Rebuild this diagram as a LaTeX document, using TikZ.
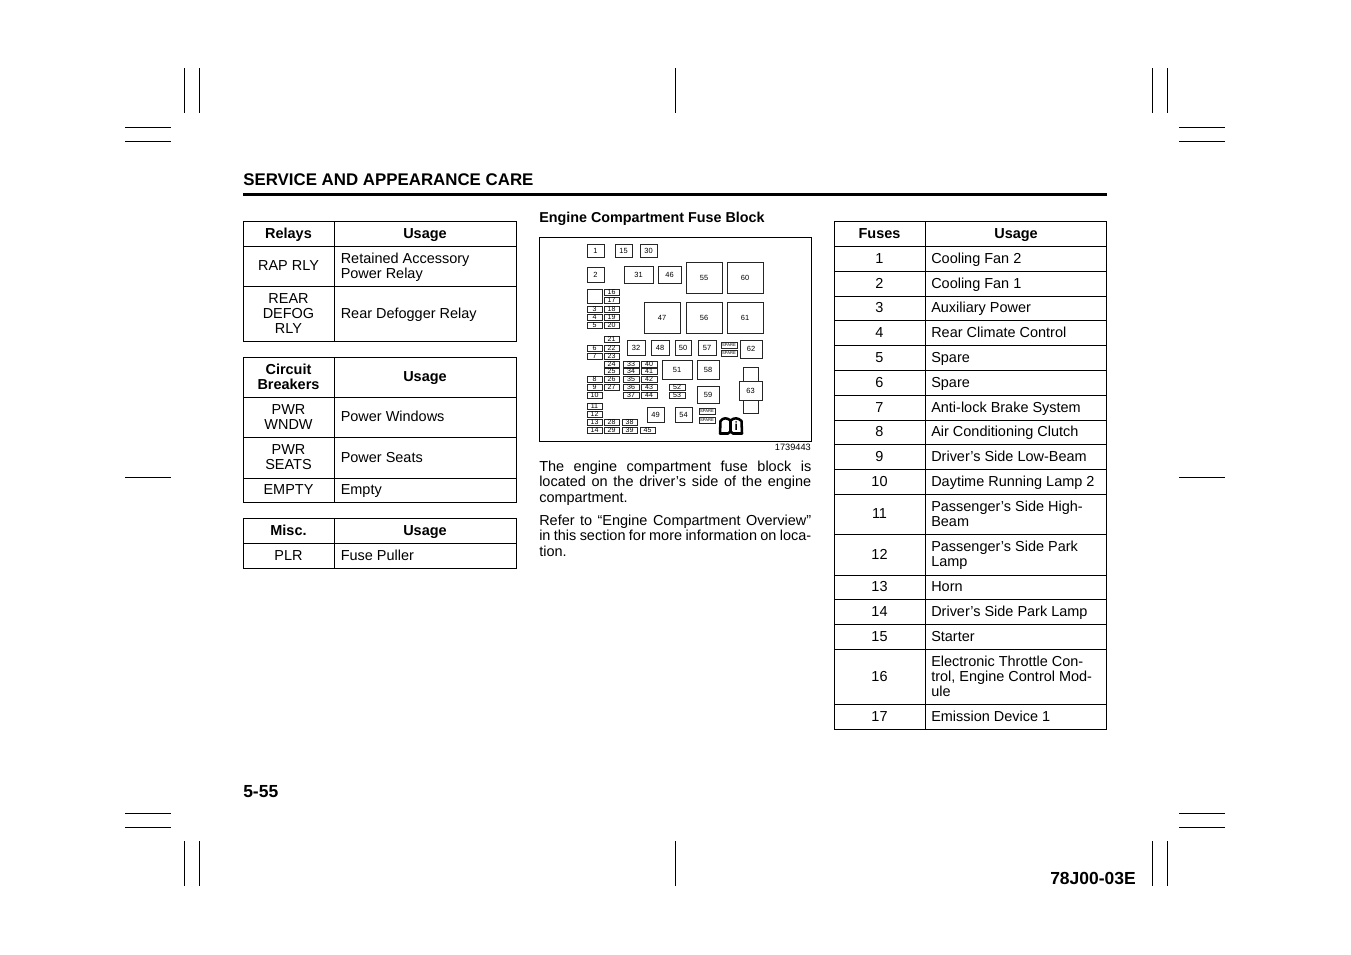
\documentclass[tikz,border=0pt]{standalone}
\usepackage{fontspec}
\setmainfont{Liberation Sans}
\begin{document}
\begin{tikzpicture}[x=0.75pt,y=-0.75pt]
    % `cell' is used for table text, `head' for the bold table titles.
    % `fuse' is used for the boxes of the fuse block.
    \tikzstyle{cell} = [inner sep=0pt,anchor=west,align=left,yshift=-1.4pt,font=\fontsize{10.85}{11.3}\selectfont,execute at begin node=\strut,execute at end node=\strut]
    \tikzstyle{mid} = [cell,anchor=center,align=center]
    \tikzstyle{head} = [mid,font=\fontsize{10.85}{11.3}\selectfont\bfseries]
    \tikzstyle{grid} = [line width=0.7pt]
    \tikzstyle{crop} = [line width=0.6pt]
    \tikzstyle{fuse} = [line width=0.6pt,draw=black!85]
    \tikzstyle{fuselabel} = [inner sep=0pt,font=\fontsize{5.6}{6}\selectfont]
    \tikzstyle{thinlabel} = [inner sep=0pt,font=\fontsize{5.3}{5}\selectfont]
    \tikzstyle{sparelabel} = [inner sep=0pt,font=\fontsize{3.1}{3}\selectfont]
    \useasboundingbox (0,0) rectangle (1351,954);
    % Crop marks.
    \foreach \xa in {184,199,675,1152,1167} {
      \draw[crop] (\xa,68) -- (\xa,113);
      \draw[crop] (\xa,841) -- (\xa,886);
    }
    \foreach \ya in {127,141,477,813,827} {
      \draw[crop] (125,\ya) -- (171,\ya);
      \draw[crop] (1179,\ya) -- (1225,\ya);
    }
    % Page title and footer.
    \node[inner sep=0pt,anchor=base west,font=\fontsize{12.65}{15}\selectfont\bfseries] (title) at (243,185) {SERVICE AND APPEARANCE CARE};
    \draw[line width=2.2pt] (243,194.5) -- (1107,194.5);
    \node[inner sep=0pt,anchor=base west,font=\fontsize{13.1}{15}\selectfont\bfseries] (page) at (243,797) {5-55};
    \node[inner sep=0pt,anchor=base east,font=\fontsize{13.1}{15}\selectfont\bfseries] (code) at (1136,884) {78J00-03E};
    % Left tables.
    \foreach \ya/\yb/\name/\usage in {
      246/286/RAP RLY/{Retained Accessory\\Power Relay},
      286/341/{REAR\\DEFOG\\RLY}/Rear Defogger Relay,
      397/437/{PWR\\WNDW}/Power Windows,
      437/478/{PWR\\SEATS}/Power Seats,
      478/502/EMPTY/Empty,
      543/568/PLR/Fuse Puller} {
      \draw[grid] (243.5,\ya) rectangle (334,\yb) (334,\ya) rectangle (516.5,\yb);
      \node[mid] at (288.5,{(\ya+\yb)/2}) {\name};
      \node[cell] at (340.5,{(\ya+\yb)/2}) {\usage};
    }
    \foreach \ya/\yb/\name in {221/246/Relays,357/397/{Circuit\\Breakers},518/543/Misc.} {
      \draw[grid] (243.5,\ya) rectangle (334,\yb) (334,\ya) rectangle (516.5,\yb);
      \node[head] at (288.5,{(\ya+\yb)/2}) {\name};
      \node[head] at (425,{(\ya+\yb)/2}) {Usage};
    }
    % Fuse table.
    \draw[grid] (834.5,221) rectangle (925,246) (925,221) rectangle (1106.5,246);
    \node[head] (fuses) at (879.5,233.5) {Fuses};
    \node[head] (usage) at (1016,233.5) {Usage};
    \foreach \ya/\yb/\name/\usage in {
      246/271/1/Cooling Fan 2,
      271/296/2/Cooling Fan 1,
      296/320/3/Auxiliary Power,
      320/345/4/Rear Climate Control,
      345/370/5/Spare,
      370/395/6/Spare,
      395/420/7/Anti-lock Brake System,
      420/444/8/Air Conditioning Clutch,
      444/469/9/Driver’s Side Low-Beam,
      469/494/10/Daytime Running Lamp 2,
      494/534/11/{Passenger’s Side High-\\Beam},
      534/575/12/{Passenger’s Side Park\\Lamp},
      575/599/13/Horn,
      599/624/14/Driver’s Side Park Lamp,
      624/649/15/Starter,
      649/704/16/{Electronic Throttle Con-\\trol, Engine Control Mod-\\ule},
      704/729/17/Emission Device 1} {
      \draw[grid] (834.5,\ya) rectangle (925,\yb) (925,\ya) rectangle (1106.5,\yb);
      \node[mid] at (879.5,{(\ya+\yb)/2}) {\name};
      \node[cell] at (931,{(\ya+\yb)/2}) {\usage};
    }
    % Middle column.
    \node[inner sep=0pt,anchor=base west,font=\fontsize{10.75}{11.6}\selectfont\bfseries] (blocktitle) at (539,222) {Engine Compartment Fuse Block};
    \draw[line width=0.7pt] (539.5,237.5) rectangle (811,441);
    \node[inner sep=0pt,anchor=base east,font=\fontsize{6.9}{8}\selectfont] (number) at (811,450) {1739443};
    \node[inner sep=0pt,anchor=north west,text width=204pt,align=justify,font=\fontsize{10.85}{11.4}\selectfont] (para1) at (539,461) {The engine compartment fuse block is\linebreak located on the driver’s side of the engine\linebreak compartment.};
    \node[inner sep=0pt,anchor=north west,text width=204pt,align=justify,font=\fontsize{10.85}{11.4}\selectfont] (para2) at (539,515) {Refer to “Engine Compartment Overview”\linebreak in this section for more information on loca-\linebreak tion.};
    % Larger fuses and relays.
    \foreach \name/\xa/\ya/\xb/\yb in {
      1/587/244/604/257, 15/615/244/632/257, 30/640/244/657/257, 2/587/267/604/282,
      31/624/266/653/283, 46/658/266/681/283, 55/686/262/722/293, 60/727/262/763/293,
      47/644/302/680/333, 56/686/302/722/333, 61/727/302/763/333,
      32/627/340/645/355, 48/651/340/669/355, 50/675/340/691/355, 57/698/340/716/355,
      62/740/340/762/358, 51/662/360/692/379, 58/697/360/719/379, 59/697/386/719/403,
      49/647/407/664/422, 54/675/407/692/422} {
      \draw[fuse] (\xa,\ya) rectangle (\xb,\yb);
      \node[fuselabel] (f\name) at ({(\xa+\xb)/2},{(\ya+\yb)/2}) {\name};
    }
    % Thin fuses, by column.
    \foreach \xa/\xb/\list in {
      587/602/{3/306,4/314,5/322,6/345,7/353,8/376,9/384,10/392,11/403,12/411,13/419,14/427},
      604/619/{16/289,17/297,18/306,19/314,20/322,21/336,22/345,23/353,24/361,25/368,26/376,27/384,28/419,29/427},
      622/637/{38/419,39/427},
      623/639/{33/361,34/368,35/376,36/384,37/392},
      641/657/{40/361,41/368,42/376,43/384,44/392},
      640/655/{45/427},
      669/685/{52/384,53/392}} {
      \foreach \name/\ya in \list {
        \draw[fuse] (\xa,\ya) rectangle (\xb,\ya+6);
        \node[thinlabel] (f\name) at ({(\xa+\xb)/2},\ya+3) {\name};
      }
    }
    \foreach \xa/\xb/\ya in {721/737/342,721/737/350,699/715/408,699/715/417} {
      \draw[fuse] (\xa,\ya) rectangle (\xb,\ya+6);
      \node[sparelabel] at ({(\xa+\xb)/2},\ya+3) {SPARE};
    }
    \draw[line width=0.7pt,draw=black!85] (587,289) rectangle (602,303);
    % Relay 63 with its two stubs.
    \draw[fuse] (743,367) rectangle (758,381) (743,400) rectangle (758,413);
    \draw[fuse,fill=white] (739,381) rectangle (762,400);
    \node[fuselabel] (f63) at (750.5,390.5) {63};
    % Book symbol.
    \draw[line width=1.9pt,line join=round] (720,433.5) -- (720.5,421) .. controls (723,417.5) and (727,417.5) .. (730.5,420.5) .. controls (734,417.5) and (738,417.5) .. (741.5,421) -- (742,433.5) -- (733,433.5) -- (730.5,431.5) -- (728,433.5) -- cycle;
    \draw[line width=1.6pt] (730.5,420.5) -- (730.5,432);
    \node[inner sep=0pt,font=\fontsize{9}{9}\selectfont\bfseries] (booki) at (736.3,426.3) {i};
\end{tikzpicture}
\end{document}
